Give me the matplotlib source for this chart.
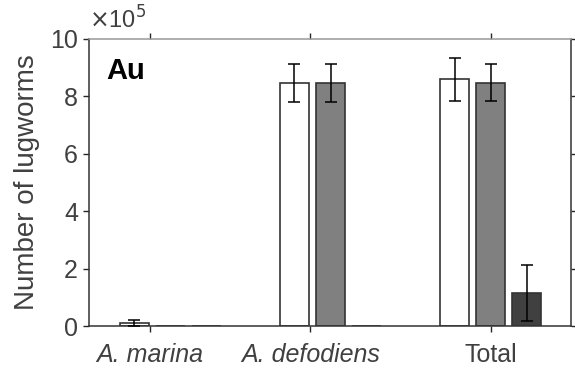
import matplotlib
matplotlib.use("Agg")
import matplotlib.pyplot as plt
import numpy as np

plt.rcParams['font.family'] = ['Liberation Sans', 'DejaVu Sans']

categories = ["A. marina", "A. defodiens", "Total"]
tick_pos = [0.875, 1.875, 3.0]
series1 = [0.12, 8.47, 8.60]
err1 = [0.10, 0.65, 0.75]
series2 = [0.0, 8.47, 8.48]
err2 = [0.0, 0.65, 0.65]
series3 = [0.0, 0.0, 1.16]
err3 = [0.0, 0.0, 0.98]
colors = ['white', '#808080', '#404040']

fig = plt.figure(figsize=(5.75, 3.74), dpi=100)
ax = fig.add_axes([0.155, 0.128, 0.838, 0.768])

x = np.arange(1, 4)
w = 0.18
off = 0.225
ec = '#333333'
for i, (vals, errs, c) in enumerate(zip([series1, series2, series3], [err1, err2, err3], colors)):
    pos = x + (i - 1) * off
    ax.bar(pos, vals, width=w, color=c, edgecolor=ec, linewidth=1.2, zorder=2)
    for p, v, e in zip(pos, vals, errs):
        if e > 0:
            ax.errorbar(p, v, yerr=e, fmt='none', ecolor='black', elinewidth=1.1,
                        capsize=4, capthick=1.1, zorder=3)

ax.set_xlim(0.494, 3.5)
ax.set_ylim(0, 10)
ax.set_yticks([0, 2, 4, 6, 8, 10])
ax.set_xticks(tick_pos)
ax.set_xticklabels(categories)
for lbl in ax.get_xticklabels():
    if lbl.get_text() != "Total":
        lbl.set_style('italic')
ax.tick_params(axis='both', direction='out', labelsize=18, colors='#262626',
               labelcolor='#404040', length=4, width=1)
ax.tick_params(axis='x', pad=8)
ax.tick_params(axis='y', right=True, pad=4)
ax.tick_params(axis='x', top=True)
for s in ['left', 'bottom', 'right']:
    ax.spines[s].set_color('#333333')
    ax.spines[s].set_linewidth(1.1)
ax.spines['top'].set_color('#999999')
ax.spines['top'].set_linewidth(1.1)

ax.set_ylabel("Number of lugworms", fontsize=20, color='#404040', labelpad=7)
ax.text(0.036, 0.86, "Au", transform=ax.transAxes, fontsize=21, fontweight='bold',
        color='black')
ax.text(0.0, 1.02, r"$\times$10$^5$", transform=ax.transAxes, fontsize=17,
        color='#404040', ha='left', va='bottom')

fig.savefig("out.png", dpi=100)
